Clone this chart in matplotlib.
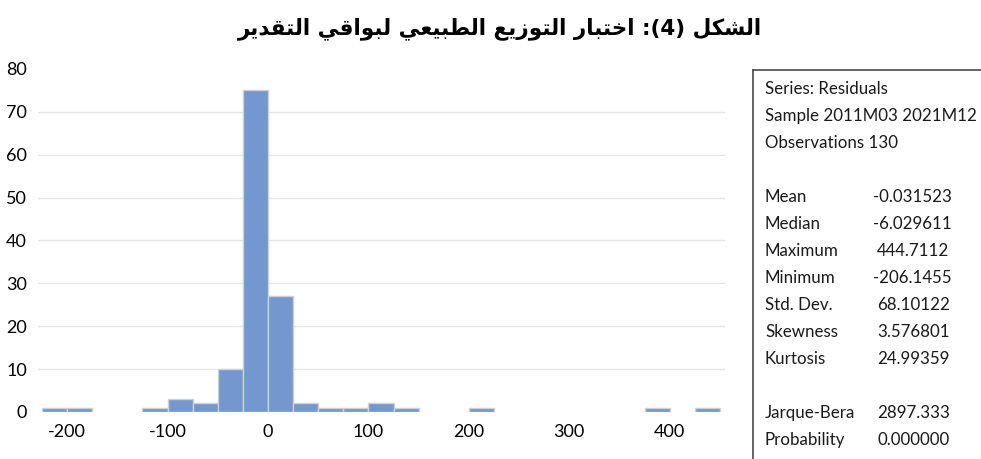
import numpy as np
import matplotlib
matplotlib.use("Agg")
import matplotlib.pyplot as plt

# Histogram of residuals: bin edges (width 25) and counts per bin
bin_left = [-225, -200, -125, -100, -75, -50, -25, 0, 25, 50, 75, 100, 125, 200, 375, 425]
counts = [1, 1, 1, 3, 2, 10, 75, 27, 2, 1, 1, 2, 1, 1, 1, 1]
bin_width = 25

x_ticks = [-200, -100, 0, 100, 200, 300, 400]
y_ticks = [0, 10, 20, 30, 40, 50, 60, 70, 80]

header_lines = ["Series: Residuals", "Sample 2011M03 2021M12", "Observations 130"]
stat_names = ["Mean", "Median", "Maximum", "Minimum", "Std. Dev.", "Skewness", "Kurtosis"]
stat_values = ["-0.031523", "-6.029611", "444.7112", "-206.1455", "68.10122", "3.576801", "24.99359"]
test_names = ["Jarque-Bera", "Probability"]
test_values = ["2897.333", "0.000000"]

title = "الشكل (4): اختبار التوزيع الطبيعي لبواقي التقدير"

# isolated, final, initial, medial presentation forms
FORMS = {
    "ا": ("\uFE8D", "\uFE8E", None, None),
    "ب": ("\uFE8F", "\uFE90", "\uFE91", "\uFE92"),
    "ت": ("\uFE95", "\uFE96", "\uFE97", "\uFE98"),
    "خ": ("\uFEA5", "\uFEA6", "\uFEA7", "\uFEA8"),
    "د": ("\uFEA9", "\uFEAA", None, None),
    "ر": ("\uFEAD", "\uFEAE", None, None),
    "ز": ("\uFEAF", "\uFEB0", None, None),
    "ش": ("\uFEB5", "\uFEB6", "\uFEB7", "\uFEB8"),
    "ط": ("\uFEC1", "\uFEC2", "\uFEC3", "\uFEC4"),
    "ع": ("\uFEC9", "\uFECA", "\uFECB", "\uFECC"),
    "ق": ("\uFED5", "\uFED6", "\uFED7", "\uFED8"),
    "ك": ("\uFED9", "\uFEDA", "\uFEDB", "\uFEDC"),
    "ل": ("\uFEDD", "\uFEDE", "\uFEDF", "\uFEE0"),
    "و": ("\uFEED", "\uFEEE", None, None),
    "ي": ("\uFEF1", "\uFEF2", "\uFEF3", "\uFEF4"),
}


def shape_rtl(text):
    out = []
    for i, c in enumerate(text):
        if c not in FORMS:
            out.append(c)
            continue
        prev = text[i - 1] if i > 0 else ""
        nxt = text[i + 1] if i + 1 < len(text) else ""
        join_prev = prev in FORMS and FORMS[prev][2] is not None
        join_next = FORMS[c][2] is not None and nxt in FORMS
        iso, fin, ini, med = FORMS[c]
        if join_prev and join_next:
            out.append(med)
        elif join_prev:
            out.append(fin)
        elif join_next:
            out.append(ini)
        else:
            out.append(iso)
    s = "".join(out)[::-1]
    return s.translate(str.maketrans("()", ")("))


plt.rcParams["font.family"] = ["Lato", "DejaVu Sans"]
plt.rcParams["axes.unicode_minus"] = False

fig = plt.figure(figsize=(9.81, 4.59), dpi=100)
ax = fig.add_axes([0.0387, 0.1024, 0.7003, 0.7473])

ax.bar(bin_left, counts, width=bin_width, align="edge",
       color="#7397cf", edgecolor="#d0d0d0", linewidth=1.0, zorder=3)

ax.set_xlim(-229, 455)
ax.set_ylim(0, 80)
ax.set_xticks(x_ticks)
ax.set_yticks(y_ticks)
ax.tick_params(length=0, labelsize=13, colors="#000000")
ax.tick_params(axis="y", pad=8)
ax.tick_params(axis="x", pad=9)
for y in y_ticks[1:-1]:
    ax.axhline(y, color="#e6e6e6", linewidth=1.0, zorder=1)
for s in ax.spines.values():
    s.set_visible(False)

fig.text(0.51, 0.938, shape_rtl(title), ha="center", va="center",
         fontsize=15.5, fontweight="bold", family="DejaVu Sans")

# stats panel with left and top borders
edge = "#3a3a3a"
fig.add_artist(plt.Line2D([753 / 981, 753 / 981], [0, 1 - 70 / 459],
                          color=edge, linewidth=1.1))
fig.add_artist(plt.Line2D([753 / 981, 1], [1 - 70 / 459, 1 - 70 / 459],
                          color=edge, linewidth=1.1))

line_h = 27
y0 = 89
lx = 765 / 981
vx = 873 / 981
fs = 12.2
tc = "#1a1a1a"


def ypos(row):
    return 1 - (y0 + row * line_h) / 459


for i, t in enumerate(header_lines):
    fig.text(lx, ypos(i), t, fontsize=fs, va="center", ha="left", color=tc)
for i, (n, v) in enumerate(zip(stat_names, stat_values)):
    fig.text(lx, ypos(i + 4), n, fontsize=fs, va="center", ha="left", color=tc)
    off = 0 if v.startswith("-") else 4 / 981
    fig.text(vx + off, ypos(i + 4), v, fontsize=fs, va="center", ha="left", color=tc)
for i, (n, v) in enumerate(zip(test_names, test_values)):
    fig.text(lx, ypos(i + 12), n, fontsize=fs, va="center", ha="left", color=tc)
    fig.text(vx + 4 / 981, ypos(i + 12), v, fontsize=fs, va="center", ha="left", color=tc)

fig.savefig("out.png", dpi=100)
